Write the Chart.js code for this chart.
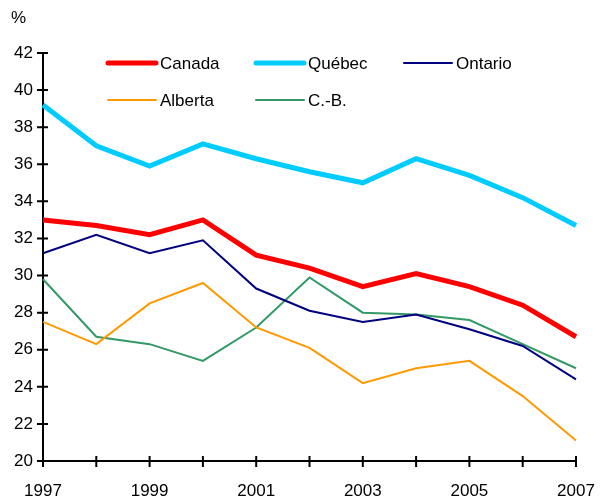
<!DOCTYPE html>
<html>
<head>
<meta charset="utf-8">
<script src="https://cdn.jsdelivr.net/npm/chart.js@4"></script>
<style>
  body { margin: 0; background: #fff; }
  #wrap { width: 605px; height: 500px; }
</style>
</head>
<body>
<div id="wrap"><canvas id="chart" width="605" height="500"></canvas></div>
<script>
// data
const years = ["1997", "1998", "1999", "2000", "2001", "2002", "2003", "2004", "2005", "2006", "2007"];
const canada  = [33.0, 32.7, 32.2, 33.0, 31.1, 30.4, 29.4, 30.1, 29.4, 28.4, 26.7];
const quebec  = [39.2, 37.0, 35.9, 37.1, 36.3, 35.6, 35.0, 36.3, 35.4, 34.2, 32.7];
const ontario = [31.2, 32.2, 31.2, 31.9, 29.3, 28.1, 27.5, 27.9, 27.1, 26.2, 24.4];
const alberta = [27.5, 26.3, 28.5, 29.6, 27.2, 26.1, 24.2, 25.0, 25.4, 23.5, 21.1];
const cb      = [29.8, 26.7, 26.3, 25.4, 27.2, 29.9, 28.0, 27.9, 27.6, 26.3, 25.0];
const yTicks  = [20, 22, 24, 26, 28, 30, 32, 34, 36, 38, 40, 42];

const FONT = "'Liberation Sans', Arial, sans-serif";

// legend spots inside the plot, two rows
const legendSpots = [
  { x: 108, y: 63 }, { x: 256, y: 63 }, { x: 404, y: 63 },
  { x: 108, y: 100 }, { x: 256, y: 100 }
];

const extras = {
  id: "extras",
  afterDraw(chart) {
    const ctx = chart.ctx;
    const xs = chart.scales.x, ys = chart.scales.y;
    ctx.save();
    // crossing tick marks
    ctx.strokeStyle = "#000";
    ctx.lineWidth = 2;
    ctx.beginPath();
    yTicks.forEach(function (v) {
      const py = ys.getPixelForValue(v);
      ctx.moveTo(ys.right - 6, py);
      ctx.lineTo(ys.right + 5, py);
    });
    years.forEach(function (y, i) {
      const px = xs.getPixelForValue(i);
      ctx.moveTo(px, xs.top - 5);
      ctx.lineTo(px, xs.top + 6);
    });
    ctx.stroke();

    // % unit
    ctx.fillStyle = "#000";
    ctx.font = "17px " + FONT;
    ctx.textBaseline = "middle";
    ctx.textAlign = "left";
    ctx.fillText("%", 11, 18);

    // legend
    chart.data.datasets.forEach(function (ds, i) {
      const s = legendSpots[i];
      ctx.strokeStyle = ds.borderColor;
      ctx.lineWidth = ds.borderWidth;
      ctx.lineCap = "round";
      ctx.beginPath();
      ctx.moveTo(s.x, s.y);
      ctx.lineTo(s.x + 48, s.y);
      ctx.stroke();
      ctx.fillStyle = "#000";
      ctx.fillText(ds.label, s.x + 52, s.y + 1);
    });
    ctx.restore();
  }
};

new Chart(document.getElementById("chart"), {
  type: "line",
  data: {
    labels: years,
    datasets: [
      { label: "Canada",  data: canada,  borderColor: "#ff0000", borderWidth: 5 },
      { label: "Québec",  data: quebec,  borderColor: "#00ccff", borderWidth: 5 },
      { label: "Ontario", data: ontario, borderColor: "#000080", borderWidth: 2 },
      { label: "Alberta", data: alberta, borderColor: "#ff9900", borderWidth: 2 },
      { label: "C.-B.",   data: cb,      borderColor: "#339966", borderWidth: 2 },
    ],
  },
  options: {
    responsive: false,
    animation: false,
    layout: { padding: { top: 53, right: 29, left: 0, bottom: 0 } },
    elements: {
      point: { radius: 0 },
      line: { tension: 0, fill: false, borderJoinStyle: "miter" }
    },
    plugins: {
      legend: { display: false },
      tooltip: { enabled: false }
    },
    scales: {
      x: {
        offset: false,
        grid: { display: false, drawTicks: false },
        border: { color: "#000", width: 2 },
        ticks: {
          color: "#000",
          font: { family: FONT, size: 17 },
          padding: 20,
          maxRotation: 0,
          autoSkip: false,
          callback: function (v, i) { return i % 2 === 0 ? years[i] : ""; }
        },
        afterFit: function (scale) {
          scale.height = 39;
          scale.paddingLeft = 0;
          scale.paddingRight = 0;
        }
      },
      y: {
        min: 20,
        max: 42,
        grid: { display: false, drawTicks: false },
        border: { color: "#000", width: 2 },
        ticks: {
          stepSize: 2,
          color: "#000",
          font: { family: FONT, size: 17 },
          padding: 10
        },
        afterFit: function (scale) {
          scale.width = 43;
          scale.paddingTop = 0;
          scale.paddingBottom = 0;
        }
      }
    }
  },
  plugins: [extras]
});
</script>
</body>
</html>
